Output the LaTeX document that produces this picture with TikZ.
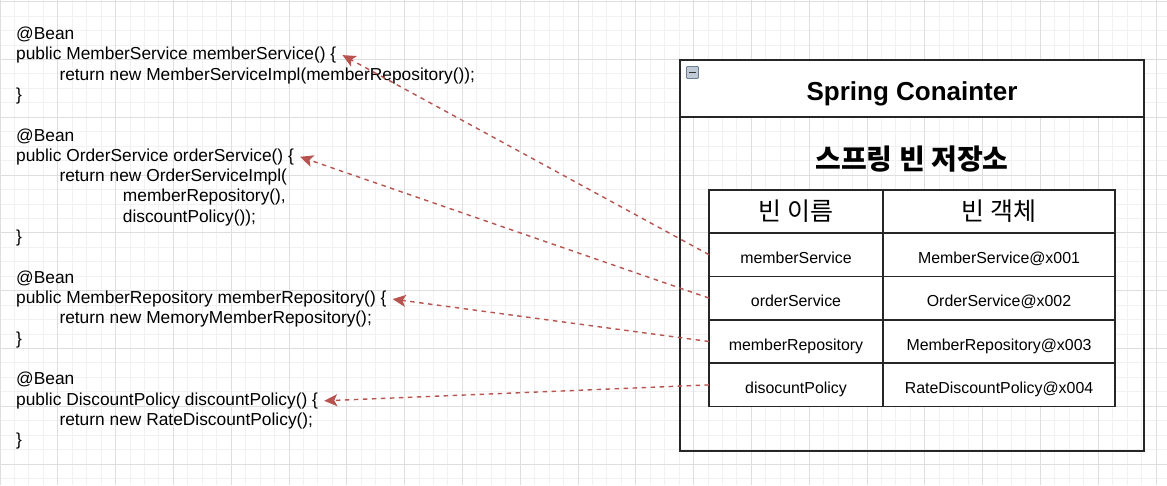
\documentclass[tikz,border=0pt]{standalone}
\usepackage{fontspec}
\setmainfont{Liberation Sans}
\newfontfamily\kr{Noto Sans CJK KR}
\usetikzlibrary{positioning,arrows.meta}
\definecolor{linkred}{HTML}{B85450}
\definecolor{gridmajor}{HTML}{DEDEDE}
\definecolor{gridminor}{HTML}{F1F1F1}
\definecolor{foldfill}{HTML}{BFCAD6}
\definecolor{foldline}{HTML}{6F7F93}

\begin{document}
\begin{tikzpicture}[x=1pt,y=-1pt,
  node distance=0pt,
  code/.style={anchor=base west,inner xsep=6pt,inner ysep=0pt,font=\fontsize{17.35}{20}\selectfont},
  frame/.style={draw=black!85,line width=1.5pt,outer sep=0pt},
  cell/.style={frame,fill=white,minimum height=43.4pt,text height=17.5pt,text depth=0pt,font=\fontsize{15.9}{18}\selectfont},
  namecell/.style={cell,minimum width=174pt},
  objcell/.style={cell,minimum width=232pt},
  headcell/.style={frame,fill=white,minimum height=43pt,font=\kr\fontsize{25}{28}\selectfont},
  link/.style={draw=linkred,line width=1.4pt,dash pattern=on 4.5pt off 4.5pt,-{Stealth[length=13pt,width=12pt,inset=3pt]}}
]
\useasboundingbox (0,0) rectangle (1167,485);
\fill[white] (0,0) rectangle (1167,485);
\foreach \i in {0,...,80} \draw[gridminor,line width=1pt] (\i*14.45,0) -- (\i*14.45,485);
\foreach \j in {0,...,33} \draw[gridminor,line width=1pt] (0,1.7+\j*14.45) -- (1167,1.7+\j*14.45);
\foreach \i in {0,...,20} \draw[gridmajor,line width=1pt] (\i*57.8,0) -- (\i*57.8,485);
\foreach \j in {0,...,8} \draw[gridmajor,line width=1pt] (0,1.7+\j*57.8) -- (1167,1.7+\j*57.8);

\node[code] (bean1) at (10,39.3) {@Bean};
\node[code] (memberSvc) at (10,59.6) {public MemberService memberService() \{};
\node[code] (ret1) at (53.3,80) {return new MemberServiceImpl(memberRepository());};
\node[code] (end1) at (10,100.3) {\}};

\node[code] (bean2) at (10,141) {@Bean};
\node[code] (orderSvc) at (10,161.3) {public OrderService orderService() \{};
\node[code] (ret2) at (53.3,181.6) {return new OrderServiceImpl(};
\node[code] (arg2a) at (116.7,201.9) {memberRepository(),};
\node[code] (arg2b) at (116.7,222.3) {discountPolicy());};
\node[code] (end2) at (10,242.6) {\}};

\node[code] (bean3) at (10,283.3) {@Bean};
\node[code] (memberRepo) at (10,303.6) {public MemberRepository memberRepository() \{};
\node[code] (ret3) at (53.3,323.9) {return new MemoryMemberRepository();};
\node[code] (end3) at (10,344.3) {\}};

\node[code] (bean4) at (10,384.9) {@Bean};
\node[code] (discountPol) at (10,405.3) {public DiscountPolicy discountPolicy() \{};
\node[code] (ret4) at (53.3,425.6) {return new RateDiscountPolicy();};
\node[code] (end4) at (10,445.9) {\}};

\node[frame,fill=white,anchor=north west,minimum width=464pt,minimum height=57pt,
  text height=24pt,text depth=0pt,font=\bfseries\fontsize{26}{30}\selectfont] (title) at (680,60) {Spring Conainter};
\node[frame,minimum width=464pt,minimum height=334pt,below=of title] (body) {};
\node[draw=foldline,fill=foldfill,rounded corners=1pt,minimum size=12pt,inner sep=0pt,line width=0.8pt,
  path picture={\draw[line width=1.5pt,black!80] ([xshift=2.5pt]path picture bounding box.west) -- ([xshift=-2.5pt]path picture bounding box.east);}]
  (fold) at (692.5,72.5) {};
\node[font=\kr\bfseries\fontsize{28}{32}\selectfont] (store) at (912,159) {스프링 빈 저장소};

\node[headcell,minimum width=174pt,anchor=north west] (hdName) at (709,190) {빈 이름};
\node[headcell,minimum width=232pt,right=of hdName] (hdObj) {빈 객체};
\node[namecell,below=of hdName] (nm1) {memberService};
\node[namecell,below=of nm1] (nm2) {orderService};
\node[namecell,below=of nm2] (nm3) {memberRepository};
\node[namecell,below=of nm3] (nm4) {disocuntPolicy};
\node[objcell,right=of nm1] (ob1) {MemberService@x001};
\node[objcell,right=of nm2] (ob2) {OrderService@x002};
\node[objcell,right=of nm3] (ob3) {MemberRepository@x003};
\node[objcell,right=of nm4] (ob4) {RateDiscountPolicy@x004};

\draw[link] (nm1.west) -- (memberSvc.east);
\draw[link] (nm2.west) -- (orderSvc.east);
\draw[link] (nm3.west) -- (memberRepo.east);
\draw[link] (nm4.west) -- (discountPol.east);
\end{tikzpicture}
\end{document}
